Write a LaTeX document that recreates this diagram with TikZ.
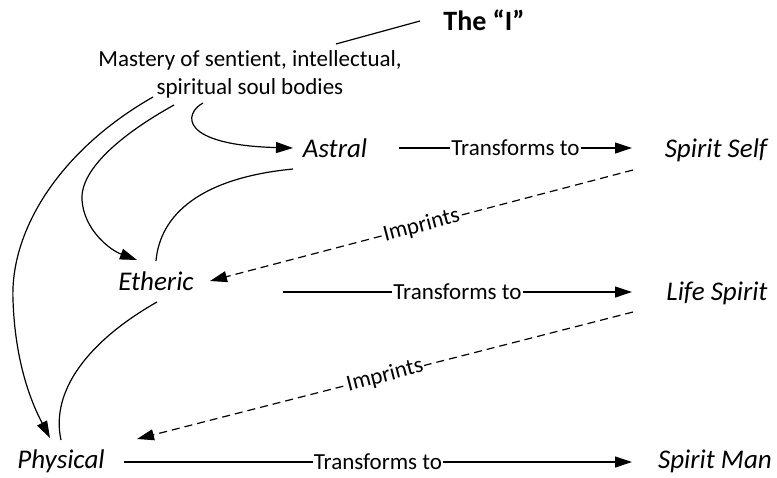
\documentclass[tikz,border=0pt]{standalone}
\usepackage{fontspec}
\setmainfont{Carlito}[Ligatures=NoCommon]
\usetikzlibrary{arrows.meta}
\begin{document}
\begin{tikzpicture}[x=1pt,y=-1pt,
  lab/.style={font=\fontsize{27}{32}\selectfont\itshape, inner sep=0pt, anchor=base},
  small/.style={font=\fontsize{23}{28}\selectfont},
  conn/.style={line width=1.2pt, black},
  arr/.style={conn, -{Triangle[length=17pt,width=11pt]}},
  dasharr/.style={arr, dash pattern=on 8pt off 5pt},
  tlabel/.style={small, fill=white, inner sep=1pt},
]
\useasboundingbox (0,0) rectangle (777,477);

% nodes
\node[font=\fontsize{28}{32}\selectfont\bfseries, inner sep=0pt, anchor=base] (I) at (484,30) {The “I”};
\node[small, align=center, inner sep=0pt] (mastery) at (250,74) {Mastery of sentient, intellectual,\\spiritual soul bodies};
\node[lab] (astral) at (335,157) {Astral};
\node[lab] (spiritself) at (716,157) {Spirit Self};
\node[lab] (etheric) at (156,290) {Etheric};
\node[lab] (lifespirit) at (717,300) {Life Spirit};
\node[lab] (physical) at (61,468) {Physical};
\node[lab] (spiritman) at (715,468) {Spirit Man};

% The I line
\draw[conn] ([shift={(-64,-9)}]I.base) -- ([shift={(86,-30)}]mastery.center);

% curves from mastery
\draw[arr] ([shift={(-47,29)}]mastery.center) .. controls +(-20,11) and +(-113,-3) .. ([shift={(-42,-9)}]astral.base);
\draw[arr] ([shift={(-76,31)}]mastery.center) .. controls +(-54,30) and +(-2,-30) .. (82,200)
  .. controls +(2,30) and +(-27,-10) .. ([shift={(-19,-30)}]etheric.base);
\draw[arr] ([shift={(-97,23)}]mastery.center) .. controls +(-93,53) and +(-3,-70) .. (13,300)
  .. controls +(2,60) and +(-20,-38) .. ([shift={(-11,-30)}]physical.base);

% plain curves between bodies
\draw[conn] ([shift={(-42,12)}]astral.base) .. controls +(-93,9) and +(4,-46) .. ([shift={(0,-29)}]etheric.base);
\draw[conn] ([shift={(1,12)}]etheric.base) .. controls +(-67,38) and +(-11,-50) .. ([shift={(0,-28)}]physical.base);

% transforms
\draw[arr] ([shift={(64,-9)}]astral.base) -- node[tlabel]{Transforms to} ([shift={(-84,-9)}]spiritself.base);
\draw[arr] ([shift={(127,2)}]etheric.base) -- node[tlabel]{Transforms to} ([shift={(-85,-8)}]lifespirit.base);
\draw[arr] ([shift={(63,-6)}]physical.base) -- node[tlabel]{Transforms to} ([shift={(-83,-6)}]spiritman.base);

% imprints
\draw[dasharr] ([shift={(-83,13)}]spiritself.base) -- node[tlabel, sloped]{Imprints} ([shift={(54,-9)}]etheric.base);
\draw[dasharr] ([shift={(-84,12)}]lifespirit.base) -- node[tlabel, sloped]{Imprints} ([shift={(76,-29)}]physical.base);
\end{tikzpicture}
\end{document}
